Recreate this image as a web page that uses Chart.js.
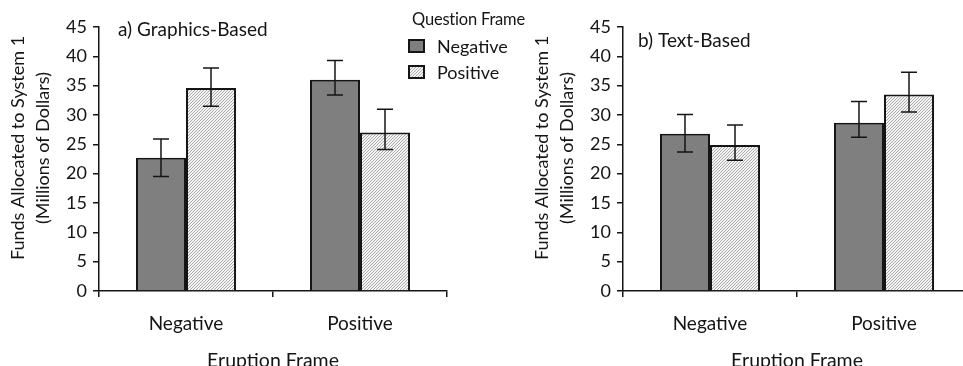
<!DOCTYPE html>
<html>
<head>
<meta charset="utf-8">
<script src="https://cdn.jsdelivr.net/npm/chart.js@4"></script>
<style>
  html, body { margin: 0; padding: 0; background: #fff; overflow: hidden; width: 963px; height: 366px; }
  .panel { position: absolute; top: 0; }
  #legend { position: absolute; left: 408px; top: 8px; font-family: Lato, sans-serif; color: #151515; z-index: 2; }
  #legend .title { font-size: 16.5px; line-height: 22px; margin-left: 4px; margin-bottom: 3px; letter-spacing: -0.2px; }
  #legend .row { display: flex; align-items: center; height: 26px; font-size: 18px; }
  #legend .box { width: 13px; height: 10px; border: 2px solid #151515; margin-right: 12px; }
</style>
</head>
<body>
<div class="panel" style="left:0"><canvas id="chartA" width="450" height="366"></canvas></div>
<div class="panel" style="left:524px"><canvas id="chartB" width="450" height="366"></canvas></div>
<div id="legend"></div>
<script>
const categories = ['Negative', 'Positive'];
const seriesNames = ['Negative', 'Positive'];
const legendTitle = 'Question Frame';
const xTitle = 'Eruption Frame';
const yTitle = ['Funds Allocated to System 1', '(Millions of Dollars)'];
const yMax = 45;
const yStep = 5;

// a) Graphics-Based
const graphicsNegMean = [22.7, 36.0];
const graphicsNegLow = [19.5, 33.4];
const graphicsNegHigh = [25.9, 39.3];
const graphicsPosMean = [34.6, 27.0];
const graphicsPosLow = [31.5, 24.1];
const graphicsPosHigh = [38.0, 31.0];

// b) Text-Based
const textNegMean = [26.8, 28.7];
const textNegLow = [23.7, 26.2];
const textNegHigh = [30.1, 32.3];
const textPosMean = [24.9, 33.5];
const textPosLow = [22.3, 30.5];
const textPosHigh = [28.3, 37.3];

const ink = '#151515';
const darkFill = '#7f7f7f';

// fine diagonal hatch (3px tile) for the "Positive" bars
const tile = document.createElement('canvas');
tile.width = 3; tile.height = 3;
(function () {
  const g = tile.getContext('2d');
  g.fillStyle = '#f5f5f5';
  g.fillRect(0, 0, 3, 3);
  g.fillStyle = '#a9a9a9';
  g.fillRect(0, 2, 1, 1);
  g.fillRect(1, 1, 1, 1);
  g.fillRect(2, 0, 1, 1);
})();
const hatchFill = tile.getContext('2d').createPattern(tile, 'repeat');

const errorBars = {
  id: 'errorBars',
  afterDatasetsDraw(chart) {
    const ctx = chart.ctx, y = chart.scales.y;
    chart.data.datasets.forEach((ds, i) => {
      chart.getDatasetMeta(i).data.forEach((bar, j) => {
        const top = y.getPixelForValue(ds.errHigh[j]);
        const bot = y.getPixelForValue(ds.errLow[j]);
        ctx.save();
        ctx.strokeStyle = ink;
        ctx.lineWidth = 1.5;
        ctx.beginPath();
        ctx.moveTo(bar.x, top); ctx.lineTo(bar.x, bot);
        ctx.moveTo(bar.x - 8, top); ctx.lineTo(bar.x + 8, top);
        ctx.moveTo(bar.x - 8, bot); ctx.lineTo(bar.x + 8, bot);
        ctx.stroke();
        ctx.restore();
      });
    });
  }
};

const panelText = {
  id: 'panelText',
  afterDraw(chart, args, opts) {
    const ctx = chart.ctx, a = chart.chartArea;
    ctx.save();
    ctx.fillStyle = ink;
    ctx.textBaseline = 'middle';
    ctx.font = '19px Lato';
    ctx.fillText(opts.label, a.left + opts.labelDx, opts.labelY);
    ctx.font = '18px Lato';
    ctx.textAlign = 'center';
    ctx.translate(0, (a.top + a.bottom) / 2 - 11);
    ctx.rotate(-Math.PI / 2);
    ctx.fillText(yTitle[0], 0, 18);
    ctx.fillText(yTitle[1], 0, 43);
    ctx.restore();
  }
};

function makeChart(id, label, labelDx, labelY, neg, negLo, negHi, pos, posLo, posHi) {
  return new Chart(document.getElementById(id), {
    type: 'bar',
    data: {
      labels: categories,
      datasets: [
        { label: seriesNames[0], data: neg, errLow: negLo, errHigh: negHi,
          backgroundColor: darkFill, borderColor: ink, borderWidth: 2 },
        { label: seriesNames[1], data: pos, errLow: posLo, errHigh: posHi,
          backgroundColor: hatchFill, borderColor: ink, borderWidth: 2 }
      ]
    },
    options: {
      responsive: false,
      animation: false,
      layout: { padding: { top: 27, right: 3, left: 0, bottom: 0 } },
      datasets: { bar: { categoryPercentage: 0.575, barPercentage: 1 } },
      plugins: {
        legend: { display: false },
        tooltip: { enabled: false },
        panelText: { label: label, labelDx: labelDx, labelY: labelY }
      },
      scales: {
        x: {
          afterFit: s => { s.height = 75; },
          border: { color: ink, width: 1.5 },
          grid: { drawOnChartArea: false, color: ink, lineWidth: 1.5, tickLength: 6 },
          ticks: { color: ink, font: { family: 'Lato', size: 19 }, padding: 15 },
          title: { display: true, text: xTitle, color: ink,
                   font: { family: 'Lato', size: 19.5 }, padding: { top: 0, bottom: -6 } }
        },
        y: {
          min: 0, max: yMax,
          afterFit: s => { s.width = 99; },
          border: { color: ink, width: 1.5 },
          grid: { drawOnChartArea: false, color: ink, lineWidth: 1.5, tickLength: 6 },
          ticks: { stepSize: yStep, color: ink, font: { family: 'Lato', size: 18 }, padding: 6 }
        }
      }
    },
    plugins: [errorBars, panelText]
  });
}

makeChart('chartA', 'a) Graphics-Based', 19, 30,
  graphicsNegMean, graphicsNegLow, graphicsNegHigh,
  graphicsPosMean, graphicsPosLow, graphicsPosHigh);
makeChart('chartB', 'b) Text-Based', 15, 41,
  textNegMean, textNegLow, textNegHigh,
  textPosMean, textPosLow, textPosHigh);

// legend
const legend = document.getElementById('legend');
const hatchUrl = tile.toDataURL();
legend.innerHTML = '<div class="title">' + legendTitle + '</div>';
seriesNames.forEach((name, i) => {
  const bg = i === 0 ? darkFill : 'url(' + hatchUrl + ')';
  legend.innerHTML += '<div class="row"><span class="box" style="background:' + bg + '"></span>' + name + '</div>';
});
</script>
</body>
</html>
